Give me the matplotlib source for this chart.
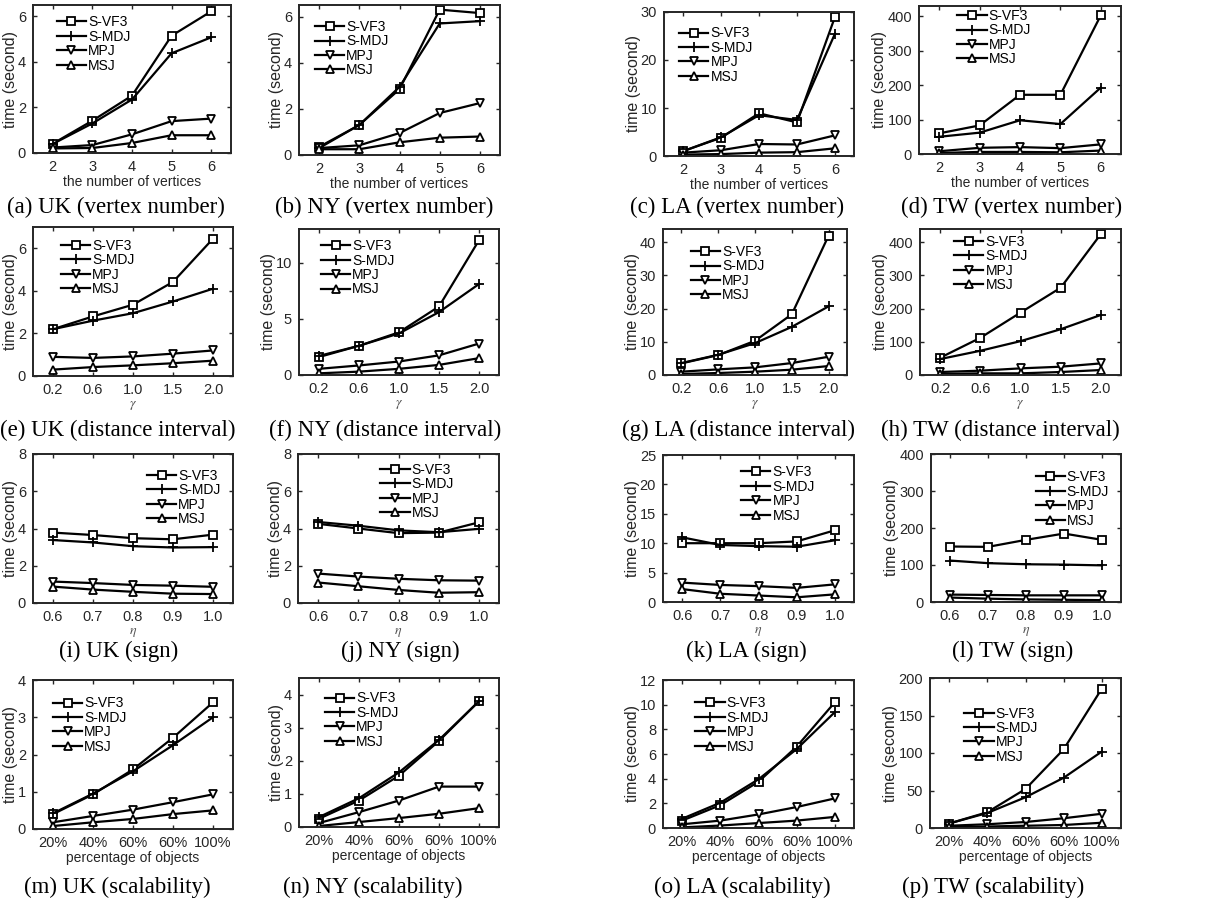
import matplotlib
matplotlib.use('Agg')
import matplotlib.pyplot as plt
import numpy as np

plt.rcParams['font.family'] = ['Liberation Sans', 'DejaVu Sans']
plt.rcParams['mathtext.fontset'] = 'stix'

methods = ['S-VF3', 'S-MDJ', 'MPJ', 'MSJ']
markers = ['s', '+', 'v', '^']

vertex_ticks = ['2', '3', '4', '5', '6']
gamma_ticks = ['0.2', '0.6', '1.0', '1.5', '2.0']
eta_ticks = ['0.6', '0.7', '0.8', '0.9', '1.0']
pct_ticks = ['20%', '40%', '60%', '60%', '100%']

# rows are S-VF3, S-MDJ, MPJ, MSJ
uk_vertex = [[0.41, 1.42, 2.52, 5.15, 6.22],
             [0.40, 1.30, 2.35, 4.38, 5.08],
             [0.24, 0.35, 0.82, 1.40, 1.51],
             [0.20, 0.22, 0.44, 0.78, 0.78]]
ny_vertex = [[0.35, 1.30, 2.85, 6.30, 6.15],
             [0.30, 1.30, 2.95, 5.70, 5.80],
             [0.30, 0.42, 0.95, 1.82, 2.25],
             [0.25, 0.25, 0.55, 0.75, 0.80]]
la_vertex = [[1.0, 3.8, 8.9, 7.0, 29.0],
             [1.0, 3.9, 8.5, 7.5, 25.5],
             [0.7, 1.2, 2.5, 2.4, 4.3],
             [0.3, 0.4, 0.7, 0.8, 1.6]]
tw_vertex = [[60, 83, 172, 172, 403],
             [50, 62, 98, 87, 193],
             [8, 18, 20, 17, 28],
             [3, 6, 6, 5, 10]]

uk_gamma = [[2.20, 2.80, 3.35, 4.42, 6.45],
            [2.20, 2.60, 2.95, 3.50, 4.10],
            [0.90, 0.85, 0.92, 1.05, 1.20],
            [0.30, 0.42, 0.50, 0.60, 0.72]]
ny_gamma = [[1.6, 2.6, 3.8, 6.1, 12.0],
            [1.7, 2.6, 3.7, 5.6, 8.1],
            [0.55, 0.85, 1.2, 1.75, 2.8],
            [0.15, 0.3, 0.55, 0.9, 1.5]]
la_gamma = [[3.5, 6.0, 10.3, 18.3, 42.0],
            [3.6, 6.1, 9.6, 14.5, 20.7],
            [1.0, 1.7, 2.3, 3.6, 5.5],
            [0.3, 0.6, 1.0, 1.6, 2.7]]
tw_gamma = [[52, 112, 188, 263, 425],
            [48, 73, 102, 138, 181],
            [9, 13, 20, 25, 35],
            [3, 5, 5, 9, 15]]

uk_eta = [[3.78, 3.65, 3.48, 3.42, 3.67],
          [3.38, 3.25, 3.05, 2.98, 3.00],
          [1.15, 1.07, 0.97, 0.93, 0.87],
          [0.88, 0.72, 0.60, 0.50, 0.48]]
ny_eta = [[4.25, 4.00, 3.75, 3.78, 4.33],
          [4.35, 4.15, 3.90, 3.80, 3.98],
          [1.58, 1.42, 1.30, 1.22, 1.20],
          [1.10, 0.90, 0.70, 0.55, 0.58]]
la_eta = [[10.0, 10.0, 10.0, 10.3, 12.2],
          [11.0, 9.7, 9.5, 9.4, 10.5],
          [3.3, 2.9, 2.7, 2.4, 3.0],
          [2.2, 1.4, 1.1, 0.8, 1.3]]
tw_eta = [[150, 149, 168, 185, 168],
          [112, 105, 102, 101, 99],
          [20, 19, 18, 18, 18],
          [12, 9, 7, 6, 5]]

uk_scale = [[0.40, 0.93, 1.60, 2.45, 3.40],
            [0.42, 0.95, 1.55, 2.25, 3.00],
            [0.18, 0.35, 0.52, 0.72, 0.93],
            [0.08, 0.18, 0.27, 0.40, 0.50]]
ny_scale = [[0.25, 0.80, 1.55, 2.60, 3.80],
            [0.30, 0.87, 1.65, 2.63, 3.80],
            [0.12, 0.45, 0.80, 1.22, 1.22],
            [0.03, 0.15, 0.27, 0.40, 0.57]]
la_scale = [[0.6, 1.85, 3.75, 6.6, 10.2],
            [0.75, 2.05, 3.95, 6.4, 9.4],
            [0.3, 0.6, 1.1, 1.7, 2.4],
            [0.05, 0.2, 0.4, 0.6, 0.9]]
tw_scale = [[6, 21, 52, 105, 186],
            [6, 20, 41, 67, 102],
            [3, 5, 8, 13, 19],
            [1, 2, 3, 4, 7]]

W, H = 1229, 901
fig = plt.figure(figsize=(W / 100, H / 100), dpi=100)

# data, xticks, xlabel, ylim top, ytick step, caption,
# axes box in pixels (left, right, top, bottom), legend anchor, caption x
panels = [
    (uk_vertex, vertex_ticks, 'the number of vertices', 6.5, 2, '(a) UK (vertex number)',
     (33, 231, 5, 153), (0.12, 0.93), 116),
    (ny_vertex, vertex_ticks, 'the number of vertices', 6.5, 2, '(b) NY (vertex number)',
     (299, 500, 5, 155), (0.08, 0.90), 384),
    (la_vertex, vertex_ticks, 'the number of vertices', 30, 10, '(c) LA (vertex number)',
     (664, 854, 12, 156), (0.08, 0.90), 737),
    (tw_vertex, vertex_ticks, 'the number of vertices', 430, 100, '(d) TW (vertex number)',
     (919, 1121, 6, 154), (0.19, 0.98), 1012),
    (uk_gamma, gamma_ticks, r'$\gamma$', 7, 2, '(e) UK (distance interval)',
     (33, 233, 227, 376), (0.14, 0.92), 118),
    (ny_gamma, gamma_ticks, r'$\gamma$', 13, 5, '(f) NY (distance interval)',
     (299, 499, 229, 375), (0.11, 0.93), 385),
    (la_gamma, gamma_ticks, r'$\gamma$', 44, 10, '(g) LA (distance interval)',
     (663, 847, 229, 375), (0.15, 0.89), 738),
    (tw_gamma, gamma_ticks, r'$\gamma$', 440, 100, '(h) TW (distance interval)',
     (920, 1121, 229, 375), (0.17, 0.96), 1000),
    (uk_eta, eta_ticks, r'$\eta$', 8, 2, '(i) UK (sign)',
     (33, 233, 454, 603), (0.57, 0.90), 119),
    (ny_eta, eta_ticks, r'$\eta$', 8, 2, '(j) NY (sign)',
     (298, 499, 454, 603), (0.41, 0.94), 400),
    (la_eta, eta_ticks, r'$\eta$', 25, 5, '(k) LA (sign)',
     (663, 854, 455, 602), (0.41, 0.93), 746),
    (tw_eta, eta_ticks, r'$\eta$', 400, 100, '(l) TW (sign)',
     (931, 1121, 454, 602), (0.55, 0.89), 1013),
    (uk_scale, pct_ticks, 'percentage of objects', 4, 1, '(m) UK (scalability)',
     (33, 233, 680, 829), (0.10, 0.89), 117),
    (ny_scale, pct_ticks, 'percentage of objects', 4.5, 1, '(n) NY (scalability)',
     (299, 499, 678, 827), (0.13, 0.91), 373),
    (la_scale, pct_ticks, 'percentage of objects', 12, 2, '(o) LA (scalability)',
     (663, 854, 680, 828), (0.17, 0.89), 742),
    (tw_scale, pct_ticks, 'percentage of objects', 200, 50, '(p) TW (scalability)',
     (930, 1121, 678, 828), (0.18, 0.81), 993),
]

caption_y = [207, 430, 651, 887]
gray = '#262626'

for k, (data, xt, xl, ytop, ystep, cap, box, leg, capx) in enumerate(panels):
    l, r, t, b = box
    ax = fig.add_axes([l / W, 1 - b / H, (r - l) / W, (b - t) / H])
    x = np.arange(len(xt))
    for vals, name, m in zip(data, methods, markers):
        ax.plot(x, vals, color='black', lw=1.6, marker=m,
                ms=7.5 if m == '+' else 5.5,
                mfc='white', mec='black', mew=1.3, label=name)
    ax.set_xlim(-0.5, len(xt) - 0.5)
    ax.set_ylim(0, ytop)
    ax.set_xticks(x)
    ax.set_xticklabels(xt)
    ax.set_yticks(np.arange(0, ytop + 1e-9, ystep))
    ax.tick_params(direction='in', top=True, right=True, length=3, width=1,
                   labelsize=10.5, colors=gray, pad=5)
    for sp in ax.spines.values():
        sp.set_linewidth(1.4)
        sp.set_color(gray)
    if xl.startswith('$'):
        ax.set_xlabel(xl, fontsize=10, color='#555555', labelpad=1)
    else:
        ax.set_xlabel(xl, fontsize=10, color=gray, labelpad=1)
    ax.set_ylabel('time (second)', fontsize=11.5, color=gray, labelpad=0)
    ax.legend(loc='upper left', bbox_to_anchor=leg, frameon=False, fontsize=10,
              borderpad=0, borderaxespad=0, handlelength=2.1, handletextpad=0.15,
              labelspacing=0.03)
    fig.text(capx / W, 1 - caption_y[k // 4] / H, cap, ha='center', va='center',
             fontsize=16.5, family='Liberation Serif')

fig.savefig('out.png', dpi=100)
